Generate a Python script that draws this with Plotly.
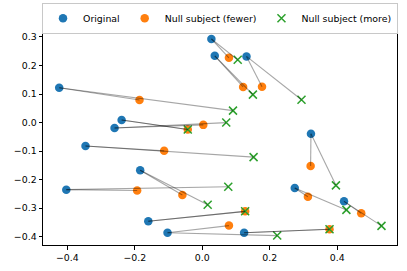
import plotly.graph_objects as go

# Original positions
orig_x = [0.027, 0.037, 0.131, -0.424, -0.239, -0.260, -0.346, 0.322, -0.184, -0.403, 0.274, 0.420, -0.160, -0.103, 0.124]
orig_y = [0.293, 0.234, 0.232, 0.122, 0.009, -0.019, -0.082, -0.039, -0.167, -0.235, -0.229, -0.276, -0.346, -0.386, -0.386]

# Null subject (fewer)
fewer_x = [0.079, 0.121, 0.177, -0.186, -0.043, 0.003, -0.113, 0.321, -0.059, -0.193, 0.313, 0.471, 0.127, 0.079, 0.377]
fewer_y = [0.227, 0.125, 0.126, 0.079, -0.024, -0.008, -0.099, -0.152, -0.254, -0.238, -0.260, -0.318, -0.311, -0.361, -0.374]

# Null subject (more)
more_x = [0.105, 0.150, 0.294, 0.091, -0.043, 0.071, 0.152, 0.396, 0.016, 0.077, 0.427, 0.531, 0.127, 0.222, 0.377]
more_y = [0.220, 0.098, 0.080, 0.042, -0.024, 0.000, -0.121, -0.220, -0.288, -0.225, -0.306, -0.362, -0.311, -0.396, -0.374]

x_ticks = [-0.4, -0.2, 0.0, 0.2, 0.4]
y_ticks = [-0.4, -0.3, -0.2, -0.1, 0.0, 0.1, 0.2, 0.3]

FONT = "DejaVu Sans"
fig = go.Figure()

fig.add_trace(go.Scatter(x=orig_x, y=orig_y, mode="markers", name="Original",
                         marker=dict(color="#1f77b4", size=8.5, line=dict(width=0))))
fig.add_trace(go.Scatter(x=fewer_x, y=fewer_y, mode="markers", name="Null subject (fewer)",
                         marker=dict(color="#ff7f0e", size=8.5, line=dict(width=0))))
fig.add_trace(go.Scatter(x=more_x, y=more_y, mode="markers", name="Null subject (more)",
                         marker=dict(color="#2ca02c", size=8, symbol="x-thin",
                                     line=dict(color="#2ca02c", width=1.5))))


def segs(x0, y0, x1, y1):
    xs, ys = [], []
    for a, b, c, d in zip(x0, y0, x1, y1):
        xs += [a, c, None]
        ys += [b, d, None]
    return xs, ys


for tx, ty in [(fewer_x, fewer_y), (more_x, more_y)]:
    sx, sy = segs(orig_x, orig_y, tx, ty)
    fig.add_trace(go.Scatter(x=sx, y=sy, mode="lines", showlegend=False, hoverinfo="skip",
                             line=dict(color="rgba(0,0,0,0.35)", width=1.1)))

axis_common = dict(showline=True, linecolor="black", linewidth=1, mirror=True,
                   ticks="outside", ticklen=3.5, tickwidth=1, tickcolor="black",
                   showgrid=False, zeroline=False, tickformat=".1f",
                   tickfont=dict(family=FONT, size=9.4, color="black"))

fig.update_xaxes(range=[-0.472, 0.577], tickvals=x_ticks, **axis_common)
fig.update_yaxes(range=[-0.429, 0.328], tickvals=y_ticks, **axis_common)

fig.update_layout(
    width=407, height=271,
    margin=dict(l=43, r=10, t=29, b=26, autoexpand=False),
    plot_bgcolor="white", paper_bgcolor="white",
    font=dict(family=FONT, size=9.4, color="black"),
    legend=dict(orientation="h", x=0.5, xanchor="center", xref="paper",
                y=0.99, yanchor="top", yref="container",
                bordercolor="#c8c8c8", borderwidth=1, bgcolor="white",
                font=dict(family=FONT, size=9.4, color="black")),
)

fig.write_html("out.html", config={"displayModeBar": False},
               post_script="document.body.style.margin='0';document.body.style.padding='0';")
